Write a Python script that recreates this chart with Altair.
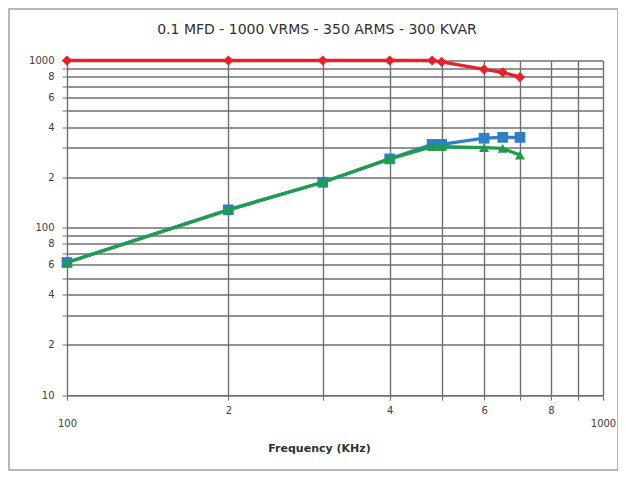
import altair as alt
import pandas as pd

# ---- data ----
freq = [100, 200, 300, 400, 480, 500, 600, 650, 700]
series_red = [1000, 1000, 1000, 1000, 1000, 980, 885, 850, 795]
series_blue = [62, 128, 187, 258, 315, 315, 343, 347, 347]
series_green = [62, 128, 187, 258, 305, 305, 301, 298, 272]

series_names = ["red", "blue", "green"]
series_colors = ["#e8202a", "#2f7fc6", "#1f9e4a"]
series_shapes = ["diamond", "square", "triangle-up"]
series_sizes = [105, 115, 100]

x_ticks = [100, 200, 300, 400, 500, 600, 700, 800, 900, 1000]
y_ticks = [10, 20, 30, 40, 50, 60, 70, 80, 90,
           100, 200, 300, 400, 500, 600, 700, 800, 900, 1000]

title_text = "0.1 MFD - 1000 VRMS - 350 ARMS - 300 KVAR"
x_title = "Frequency (KHz)"

rows = []
for name, vals in zip(series_names, [series_red, series_blue, series_green]):
    for f, v in zip(freq, vals):
        rows.append({"series": name, "freq": f, "val": v})
df = pd.DataFrame(rows)

GRID = "#707070"
FONT = "DejaVu Sans"

x_enc = alt.X(
    "freq:Q",
    scale=alt.Scale(type="log", domain=[100, 1000], nice=False),
    axis=alt.Axis(
        values=x_ticks,
        labelExpr=(
            "datum.value == 100 || datum.value == 1000 ? ['', toString(datum.value)] : "
            "(datum.value == 200 || datum.value == 400 || datum.value == 600 || datum.value == 800 "
            "? toString(datum.value / 100) : '')"
        ),
        labelOverlap=False,
        labelFlush=False,
        labelLineHeight=13,
        labelFont=FONT,
        labelFontSize=10,
        labelColor="#404040",
        labelPadding=5,
        grid=True,
        gridColor=GRID,
        gridWidth=1.4,
        domainColor=GRID,
        tickColor=GRID,
        tickSize=5,
        title=x_title,
        titleFont=FONT,
        titleFontSize=11,
        titleFontWeight="bold",
        titleColor="#303030",
        titleX=252,
        titleY=53,
        titleAlign="center",
        titleBaseline="middle",
    ),
)

y_enc = alt.Y(
    "val:Q",
    scale=alt.Scale(type="log", domain=[10, 1000], nice=False),
    axis=alt.Axis(
        values=y_ticks,
        labelExpr=(
            "datum.value == 10 || datum.value == 100 || datum.value == 1000 ? toString(datum.value) : "
            "(indexof([20, 40, 60, 80, 200, 400, 600, 800], datum.value) >= 0 "
            "? toString(datum.value / pow(10, floor(log(datum.value) / LN10))) : '')"
        ),
        labelOverlap=False,
        labelFlush=False,
        labelFont=FONT,
        labelFontSize=10,
        labelColor="#404040",
        labelPadding=8,
        grid=True,
        gridColor=GRID,
        gridWidth=1.4,
        domainColor=GRID,
        tickColor=GRID,
        tickSize=5,
        title=None,
    ),
)

layers = []
for name, color, shape, size in zip(series_names, series_colors, series_shapes, series_sizes):
    base = alt.Chart(df).transform_filter(alt.datum.series == name)
    line = base.mark_line(color=color, strokeWidth=3.3, clip=False).encode(x=x_enc, y=y_enc)
    pts = base.mark_point(
        shape=shape, filled=True, color=color, size=size, opacity=1, clip=False
    ).encode(x=x_enc, y=y_enc)
    layers += [line, pts]

frame = alt.Chart(pd.DataFrame({"k": [0]})).mark_rect(
    fill=None, stroke="#a0a0a0", strokeWidth=1.5, clip=False
).encode(
    x=alt.value(-58), x2=alt.value(551), y=alt.value(-51.5), y2=alt.value(409.5)
)

chart = alt.layer(frame, *layers).properties(
    width=536,
    height=334.5,
    title=alt.TitleParams(
        text=title_text,
        font=FONT,
        fontSize=14,
        fontWeight="normal",
        color="#303030",
        anchor="middle",
        dx=-18,
        offset=-29,
    ),
    autosize=alt.AutoSizeParams(type="none"),
    padding={"left": 59, "top": 52.5, "right": 15, "bottom": 77},
    background="white",
).configure_view(stroke=None)

chart.save("out.html", embed_options={"renderer": "svg", "actions": False})
